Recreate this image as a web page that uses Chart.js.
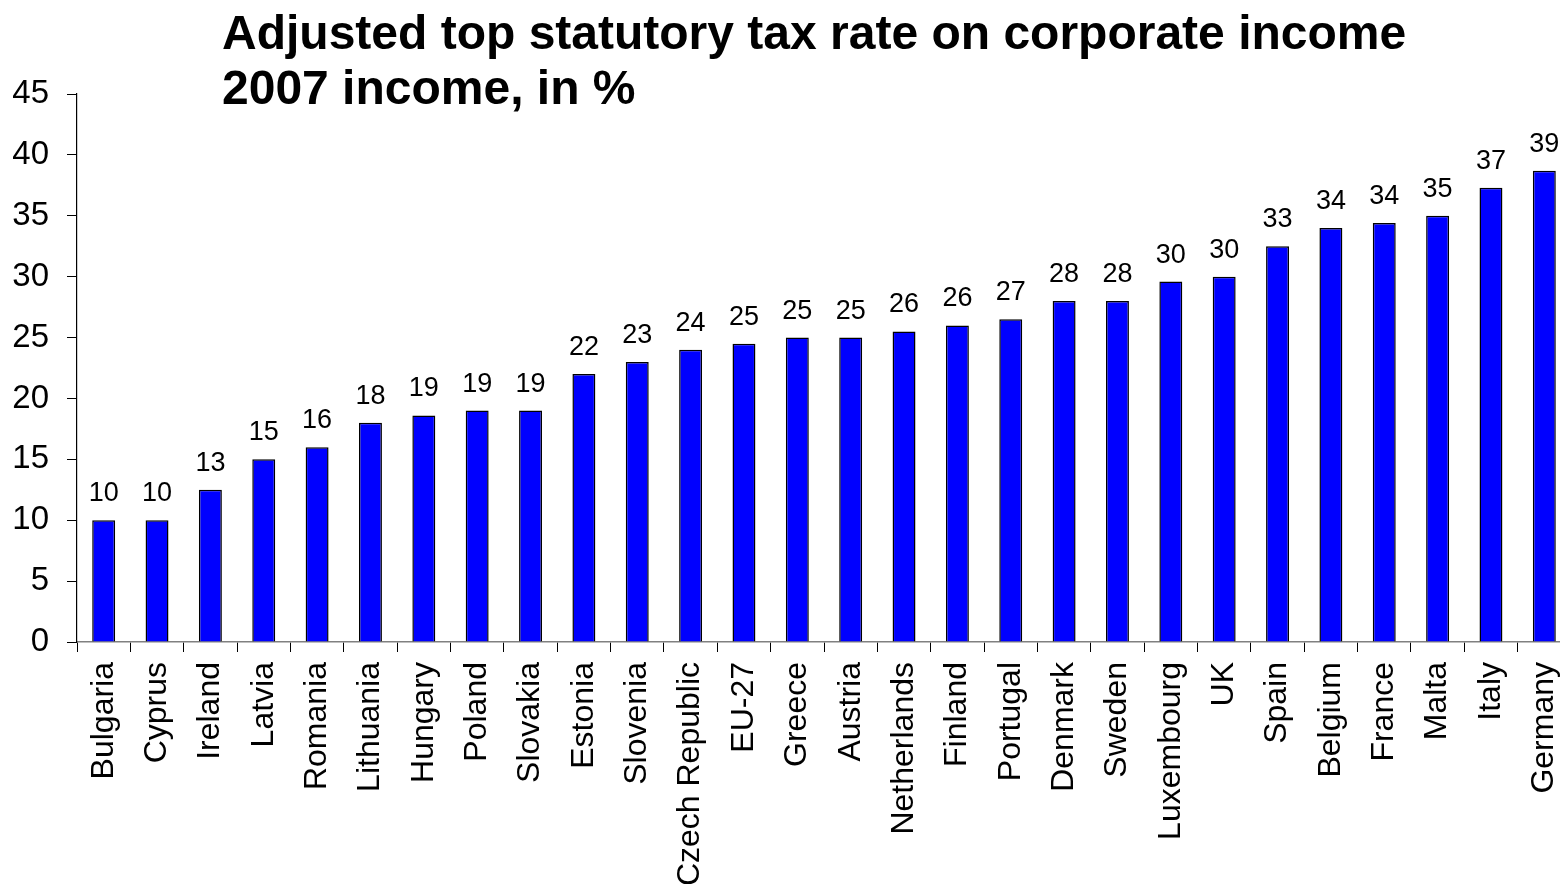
<!DOCTYPE html>
<html>
<head>
<meta charset="utf-8">
<script src="https://cdn.jsdelivr.net/npm/chart.js@4/dist/chart.umd.min.js"></script>
<style>
  html, body { margin: 0; padding: 0; background: #fff; overflow: hidden; width: 1560px; height: 884px; }
  canvas { display: block; }
</style>
</head>
<body>
<canvas id="c" width="1574" height="884"></canvas>
<script>
const categories = ["Bulgaria","Cyprus","Ireland","Latvia","Romania","Lithuania","Hungary","Poland","Slovakia","Estonia","Slovenia","Czech Republic","EU-27","Greece","Austria","Netherlands","Finland","Portugal","Denmark","Sweden","Luxembourg","UK","Spain","Belgium","France","Malta","Italy","Germany"];
const taxRates = [10, 10, 12.5, 15, 16, 18, 18.6, 19, 19, 22, 23, 24, 24.5, 25, 25, 25.5, 26, 26.5, 28, 28, 29.6, 30, 32.5, 34, 34.4, 35, 37.3, 38.7];
const titleLines = ["Adjusted top statutory tax rate on corporate income", "2007 income, in %"];
const yTicks = [0, 5, 10, 15, 20, 25, 30, 35, 40, 45];

const FONT = "'Liberation Sans', Arial, Helvetica, sans-serif";

const valueLabels = {
  id: 'valueLabels',
  afterDatasetsDraw(chart) {
    const ctx = chart.ctx;
    const meta = chart.getDatasetMeta(0);
    ctx.save();
    ctx.font = "27px " + FONT;
    ctx.fillStyle = "#000";
    ctx.textAlign = "center";
    ctx.textBaseline = "alphabetic";
    meta.data.forEach((bar, i) => {
      ctx.fillText(String(Math.round(taxRates[i])), bar.x, bar.y - 19);
    });
    ctx.restore();
  }
};

const overlayTitle = {
  id: 'overlayTitle',
  afterDraw(chart) {
    const ctx = chart.ctx;
    ctx.save();
    ctx.font = "bold 48px " + FONT;
    ctx.fillStyle = "#000";
    ctx.textAlign = "left";
    ctx.textBaseline = "alphabetic";
    ctx.fillText(titleLines[0], 222, 49);
    ctx.fillText(titleLines[1], 222, 104);
    ctx.restore();
  }
};

new Chart(document.getElementById('c'), {
  type: 'bar',
  data: {
    labels: categories,
    datasets: [{
      data: taxRates,
      backgroundColor: '#0000FF',
      borderColor: '#000000',
      borderWidth: 1.5,
      borderSkipped: 'bottom',
      categoryPercentage: 1.0,
      barPercentage: 0.43
    }]
  },
  options: {
    responsive: false,
    animation: false,
    devicePixelRatio: 1,
    layout: { padding: { top: 94, right: 3, left: 0, bottom: 0 } },
    plugins: {
      legend: { display: false },
      title: { display: false },
      tooltip: { enabled: false }
    },
    scales: {
      x: {
        grid: { display: true, drawOnChartArea: false, drawTicks: true, tickLength: 10, color: '#000', offset: true },
        border: { display: true, color: '#808080', width: 1.5 },
        ticks: {
          color: '#000',
          font: { family: FONT, size: 32 },
          minRotation: 90, maxRotation: 90,
          autoSkip: false,
          padding: 10
        },
        afterFit(scale) { scale.height = 242; scale.paddingLeft = 0; scale.paddingRight = 0; }
      },
      y: {
        min: 0, max: 45,
        afterBuildTicks(scale) { scale.ticks = yTicks.map(v => ({ value: v })); },
        grid: { display: true, drawOnChartArea: false, drawTicks: true, tickLength: 10, color: '#000' },
        border: { display: true, color: '#000', width: 1.2 },
        ticks: {
          color: '#000',
          font: { family: FONT, size: 33 },
          padding: 18
        },
        afterFit(scale) { scale.width = 77; }
      }
    }
  },
  plugins: [valueLabels, overlayTitle]
});
</script>
</body>
</html>
